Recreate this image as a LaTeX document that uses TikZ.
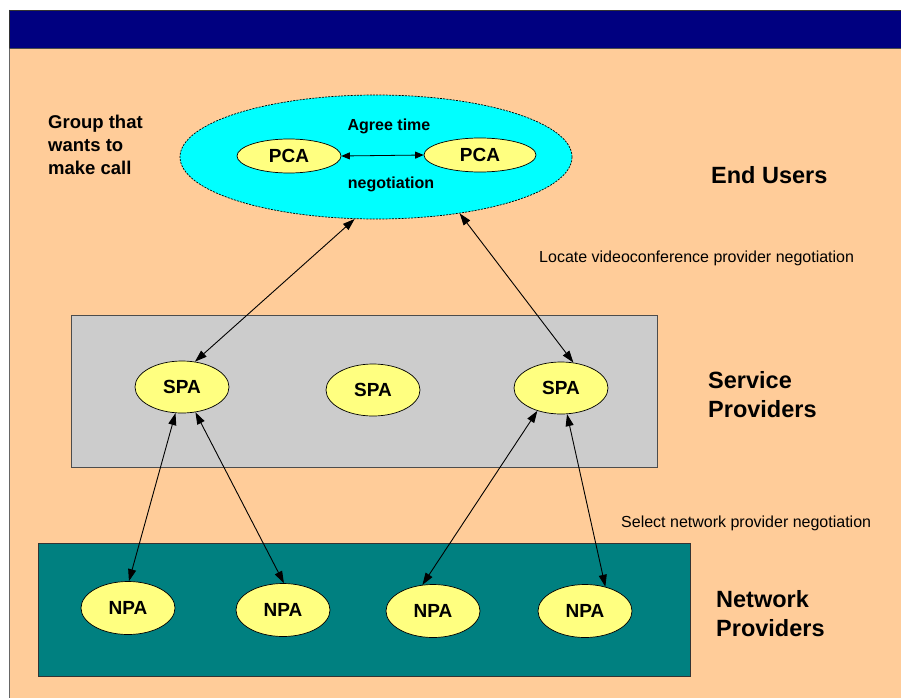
\documentclass[tikz,border=0pt]{standalone}
\usepackage{fontspec}
\setmainfont{Liberation Sans}
\usetikzlibrary{shapes.geometric,arrows.meta}
\definecolor{bandnavy}{HTML}{000080}
\definecolor{slidepeach}{HTML}{FFCC99}
\definecolor{groupcyan}{HTML}{00FFFF}
\definecolor{agentyellow}{HTML}{FFFF80}
\definecolor{spgray}{HTML}{CCCCCC}
\definecolor{npteal}{HTML}{008080}
\begin{document}
\begin{tikzpicture}[x=1pt,y=-1pt,
  agent/.style={ellipse,draw=black,line width=0.7pt,fill=agentyellow,
    minimum width=94pt,minimum height=52pt,inner sep=0pt,
    font=\fontsize{19}{21}\selectfont\bfseries},
  pca/.style={agent,minimum height=34pt},
  link/.style={{Triangle[length=12pt,width=8pt]}-{Triangle[length=12pt,width=8pt]},line width=0.9pt},
  shortlink/.style={{Triangle[length=8.5pt,width=7pt]}-{Triangle[length=8.5pt,width=7pt]},line width=0.8pt},
  biglabel/.style={anchor=west,inner sep=0pt,align=left,font=\fontsize{23.5}{29}\selectfont\bfseries},
  note/.style={anchor=west,inner sep=0pt,font=\fontsize{16}{19}\selectfont},
  boldnote/.style={inner sep=0pt,font=\fontsize{16}{19}\selectfont\bfseries}
]
\useasboundingbox (0,0) rectangle (901,698);
\fill[white] (0,0) rectangle (901,698);

% slide background and title band
\fill[slidepeach] (9,48) rectangle (901,698);
\draw[gray!80!black,line width=1pt] (9.5,48) -- (9.5,698);
\fill[bandnavy] (9,10) rectangle (901,48);
\draw[black!80,line width=0.8pt] (9,10) -- (901,10);
\draw[black!80,line width=0.8pt] (9,10) -- (9,48);
\draw[black!70,line width=0.8pt] (9,48) -- (901,48);

% layer boxes
\draw[fill=spgray,draw=black!70,line width=0.7pt] (71,315) rectangle (657,467);
\draw[fill=npteal,draw=black!80,line width=0.7pt] (38,543) rectangle (690,676);

% end users group
\node[ellipse,draw=black,fill=groupcyan,line width=0.7pt,dash pattern=on 2pt off 1.2pt,
  minimum width=392pt,minimum height=124pt,inner sep=0pt] (grp) at (376,157) {};
\node[pca,minimum width=104pt] (pca1) at (289,156) {PCA};
\node[pca,minimum width=112pt] (pca2) at (480,155) {PCA};
\node[boldnote] (agree) at (389,126) {Agree time};
\node[boldnote] (nego) at (391,184) {negotiation};
\draw[shortlink] (pca1.east) -- (pca2.west);

% service provider agents
\node[agent] (spa1) at (182,387) {SPA};
\node[agent] (spa2) at (373,390) {SPA};
\node[agent] (spa3) at (561,388) {SPA};

% network provider agents
\node[agent,minimum height=53pt] (npa1) at (128,608) {NPA};
\node[agent,minimum height=53pt] (npa2) at (283,610) {NPA};
\node[agent,minimum height=53pt] (npa3) at (433,611) {NPA};
\node[agent,minimum height=53pt] (npa4) at (585,611) {NPA};

% negotiation links
\draw[link] (grp.251) -- (spa1.63);
\draw[link] (grp.326) -- (spa3.64);
\draw[link] (spa1.256) -- (npa1.88);
\draw[link] (spa1.298) -- (npa2.88);
\draw[link] (spa3.224) -- (npa3.112);
\draw[link] (spa3.283) -- (npa4.50);

% labels
\node[anchor=west,inner sep=0pt,align=left,font=\fontsize{18.5}{23}\selectfont\bfseries]
  (group) at (48,145) {Group that\\wants to\\make call};
\node[biglabel] (endusers) at (711,175) {End Users};
\node[note] (locate) at (539,258) {Locate videoconference provider negotiation};
\node[biglabel] (service) at (708,394.5) {Service\\Providers};
\node[note] (select) at (621,523) {Select network provider negotiation};
\node[biglabel] (network) at (716,613.5) {Network\\Providers};
\end{tikzpicture}
\end{document}
